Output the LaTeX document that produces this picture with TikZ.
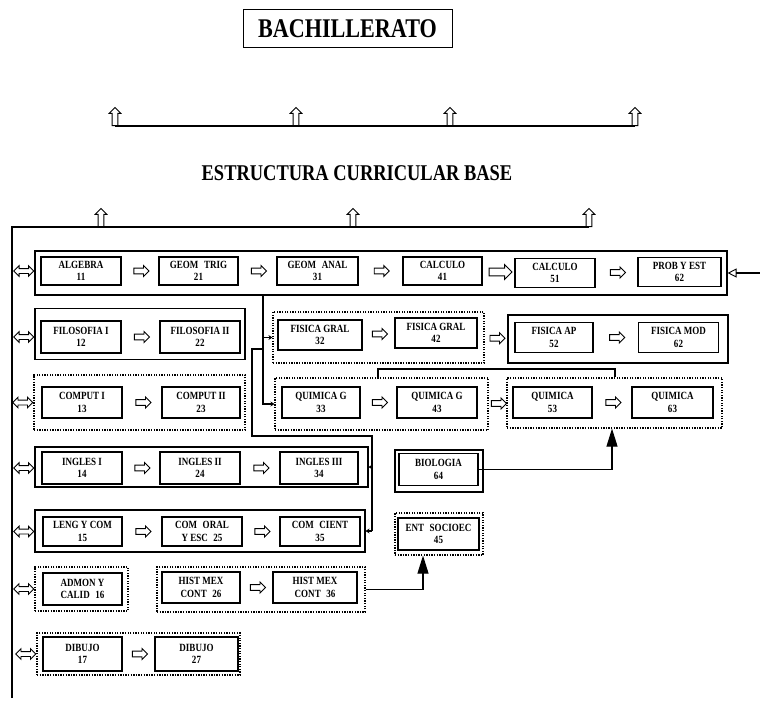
\documentclass[tikz,border=0pt]{standalone}
\usepackage{fontspec}
\setmainfont{Liberation Serif}
\newfontfamily\cnd[FakeStretch=0.82]{Liberation Serif}
\usetikzlibrary{shapes.arrows,arrows.meta,calc}
\begin{document}
\begin{tikzpicture}[x=1pt,y=-1pt,
  course/.style={draw, line width=1.3pt, inner sep=0pt, align=center, minimum width=80, minimum height=30,
    font=\cnd\bfseries\fontsize{11}{12.5}\selectfont},
  grp/.style={draw, line width=1.1pt, inner sep=0pt},
  dgrp/.style={draw, line width=1.2pt, dash pattern=on 1.3pt off 1.3pt, inner sep=0pt},
  rarr/.style={single arrow, draw, line width=0.9pt, inner sep=2.4pt, minimum height=15, single arrow head extend=2.6pt},
  barr/.style={rarr, inner sep=3.4pt, minimum height=23, single arrow head extend=3.6pt},
  lrarr/.style={double arrow, draw, line width=0.9pt, inner sep=2pt, minimum height=20, double arrow head extend=2.8pt},
  uarr/.style={rarr, shape border rotate=90, minimum height=18, single arrow head extend=3pt},
  conn/.style={line width=1.1pt},
  bigtip/.style={-{Triangle[length=18pt,width=11pt]}},
  smallhead/.style={-{Stealth[length=4pt,width=5pt]}},
]
\useasboundingbox (0,0) rectangle (760,701);

% title
\node[draw, line width=1pt, minimum width=209, minimum height=38,
  font=\cnd\bfseries\fontsize{27}{30}\selectfont] (title) at (347.5,29) {BACHILLERATO};

% top arrows
\node[uarr, anchor=tail] (t1) at (115,126) {};
\node[uarr, anchor=tail] (t2) at (296,126) {};
\node[uarr, anchor=tail] (t3) at (450,126) {};
\node[uarr, anchor=tail] (t4) at (635,126) {};
\draw[conn] (t1.tail) -- (t4.tail);

\node[font=\cnd\bfseries\fontsize{22.5}{24}\selectfont] (ecb) at (357,173) {ESTRUCTURA CURRICULAR BASE};

% base bus
\node[uarr, anchor=tail] (u1) at (101,227) {};
\node[uarr, anchor=tail] (u2) at (353,227) {};
\node[uarr, anchor=tail] (u3) at (589,227) {};
\coordinate (busbot) at (12,698);
\draw[conn] (busbot) |- (u3.tail);

% Row 1
\node[grp, minimum width=692, minimum height=44] (g1) at (381,273) {};
\node[course, minimum height=28] (a11) at (81,271) {ALGEBRA\\11};
\node[course, minimum width=79, minimum height=28] (a21) at (198.5,271) {GEOM\enspace TRIG\\21};
\node[course, minimum width=81, minimum height=28] (a31) at (317.5,271) {GEOM\enspace ANAL\\31};
\node[course, minimum width=79, minimum height=28, line width=2pt] (a41) at (442.5,271) {CALCULO\\41};
\node[course, minimum height=29] (a51) at (555,273) {CALCULO\\51};
\node[course, minimum width=83, minimum height=29] (a61) at (679.5,272) {PROB Y EST\\62};
\node[rarr] (ar1) at ($(a11.east)!0.5!(a21.west)$) {};
\node[rarr] (ar2) at ($(a21.east)!0.5!(a31.west)$) {};
\node[rarr] (ar3) at ($(a31.east)!0.5!(a41.west)$) {};
\node[barr] (ar4) at ($(a41.east)!0.5!(a51.west)$) {};
\node[rarr] (ar5) at ($(a51.east)!0.5!(a61.west)$) {};
\coordinate (rin) at (760,273);
\draw[conn, -{Triangle[open, length=9pt, width=9pt, line width=0.9pt]}] (rin) -- (g1.east);

% Row 2
\node[grp, minimum width=210, minimum height=51] (g2a) at (140,334) {};
\node[course, minimum height=32] (b12) at (81,337) {FILOSOFIA I\\12};
\node[course, minimum height=32] (b22) at (200,337) {FILOSOFIA II\\22};
\node[rarr] (br1) at ($(b12.east)!0.5!(b22.west)$) {};
\node[dgrp, minimum width=211, minimum height=51] (g2b) at (378.5,337.5) {};
\node[course, minimum width=84] (b32) at (320,335) {FISICA GRAL\\32};
\node[course, minimum width=82] (b42) at (436,333) {FISICA GRAL\\42};
\node[rarr] (br2) at ($(b32.east)!0.5!(b42.west)$) {};
\node[grp, minimum width=220, minimum height=48] (g2c) at (618,339) {};
\node[rarr] (br3) at ($(g2b.east)!0.5!(g2c.west)$) {};
\node[course, minimum width=78] (b52) at (554,337.5) {FISICA AP\\52};
\node[course] (b62) at (678.5,337.5) {FISICA MOD\\62};
\node[rarr] (br4) at ($(b52.east)!0.5!(b62.west)$) {};

% Row 3
\node[dgrp, minimum width=211, minimum height=55] (g3a) at (139.5,402.5) {};
\node[course, minimum height=31] (c13) at (82,402.5) {COMPUT I\\13};
\node[course, minimum width=78, minimum height=31] (c23) at (201,402.5) {COMPUT II\\23};
\node[rarr] (cr1) at ($(c13.east)!0.5!(c23.west)$) {};
\node[dgrp, minimum width=213, minimum height=52] (g3b) at (381.5,404) {};
\node[course, minimum width=78, minimum height=31] (c33) at (321,402.5) {QUIMICA G\\33};
\node[course, minimum height=31] (c43) at (437,402.5) {QUIMICA G\\43};
\node[rarr] (cr2) at ($(c33.east)!0.5!(c43.west)$) {};
\node[dgrp, minimum width=215, minimum height=50] (g3c) at (614.5,403) {};
\node[rarr] (cr3) at ($(g3b.east)!0.5!(g3c.west)$) {};
\node[course, minimum width=79, minimum height=31] (c53) at (552.5,402.5) {QUIMICA\\53};
\node[course, minimum width=81, minimum height=31] (c63) at (672.5,402.5) {QUIMICA\\63};
\node[rarr] (cr4) at ($(c53.east)!0.5!(c63.west)$) {};

% Row 4
\node[grp, minimum width=333, minimum height=40] (g4) at (201.5,467) {};
\node[course, minimum height=32] (d14) at (82,468) {INGLES I\\14};
\node[course, minimum height=32] (d24) at (200,468) {INGLES II\\24};
\node[course, minimum width=78, minimum height=32] (d34) at (319,468) {INGLES III\\34};
\node[rarr] (dr1) at ($(d14.east)!0.5!(d24.west)$) {};
\node[rarr] (dr2) at ($(d24.east)!0.5!(d34.west)$) {};
\node[grp, minimum width=88, minimum height=42] (d64o) at (439,471) {};
\node[course, minimum width=79, minimum height=32] (d64) at (438.5,469.5) {BIOLOGIA\\64};

% Row 5
\node[grp, minimum width=330, minimum height=42] (g5) at (200,531) {};
\node[course, minimum width=79, minimum height=29] (e15) at (82.5,531.5) {LENG Y COM\\15};
\node[course, minimum height=29] (e25) at (202,531.5) {COM\enspace ORAL\\Y ESC\enspace 25};
\node[course, minimum height=29] (e35) at (320,531.5) {COM\enspace CIENT\\35};
\node[rarr] (er1) at ($(e15.east)!0.5!(e25.west)$) {};
\node[rarr] (er2) at ($(e25.east)!0.5!(e35.west)$) {};
\node[dgrp, minimum width=88, minimum height=42] (e45o) at (439,534) {};
\node[course, minimum width=81, minimum height=32] (e45) at (438.5,534) {ENT\enspace SOCIOEC\\45};

% Row 6
\node[dgrp, minimum width=93, minimum height=44] (g6a) at (81.5,589) {};
\node[course, minimum width=79, minimum height=32] (f16) at (82.5,589) {ADMON Y\\CALID\enspace 16};
\node[dgrp, minimum width=208, minimum height=45] (g6b) at (261,589.5) {};
\node[course, minimum width=78, minimum height=31] (f26) at (201,587.5) {HIST MEX\\CONT\enspace 26};
\node[course, minimum width=84, minimum height=31] (f36) at (315,587.5) {HIST MEX\\CONT\enspace 36};
\node[rarr] (fr1) at ($(f26.east)!0.5!(f36.west)$) {};

% Row 7
\node[dgrp, minimum width=203, minimum height=42] (g7) at (138.5,654) {};
\node[course, minimum width=79, minimum height=34] (h17) at (82.5,654) {DIBUJO\\17};
\node[course, minimum width=83, minimum height=34] (h27) at (196.5,654) {DIBUJO\\27};
\node[rarr] (hr1) at ($(h17.east)!0.5!(h27.west)$) {};

% left double arrows
\node[lrarr, anchor=east] (l1) at (g1.west |- a11) {};
\node[lrarr, anchor=east] (l2) at (g2a.west |- b12) {};
\node[lrarr, anchor=east] (l3) at (g3a.west |- c13) {};
\node[lrarr, anchor=east] (l4) at (g4.west |- d14) {};
\node[lrarr, anchor=east] (l5) at (g5.west |- e15) {};
\node[lrarr, anchor=east] (l6) at (g6a.west |- f16) {};
\node[lrarr, anchor=east] (l7) at (g7.west |- h17) {};

% middle connectors
\coordinate (tk) at (263,300);
\draw[conn, smallhead] (g1.south -| tk) |- (g3b.west);
\draw[conn, smallhead] (tk |- g2b.west) -- (g2b.west);
\coordinate (k1) at (263,349);
\coordinate (k2) at (252,436);
\coordinate (k5) at (372,531);
\draw[conn] (k1) -| (k2) -| (k5);
\draw[conn, smallhead] (k5 |- g4.east) -- (g4.east);
\draw[conn, smallhead] (k5) -- (g5.east |- k5);

\coordinate (q1) at (378,369);
\coordinate (q2) at (615,369);
\draw[conn] (g3b.north -| q1) |- (q2) -- (g3c.north -| q2);

\coordinate (bq) at (612,469.5);
\draw[conn, bigtip] (d64.east) -| (g3c.south -| bq);
\coordinate (he) at (423,589);
\draw[conn, bigtip] (g6b.east) -| (e45o.south -| he);
\end{tikzpicture}
\end{document}
